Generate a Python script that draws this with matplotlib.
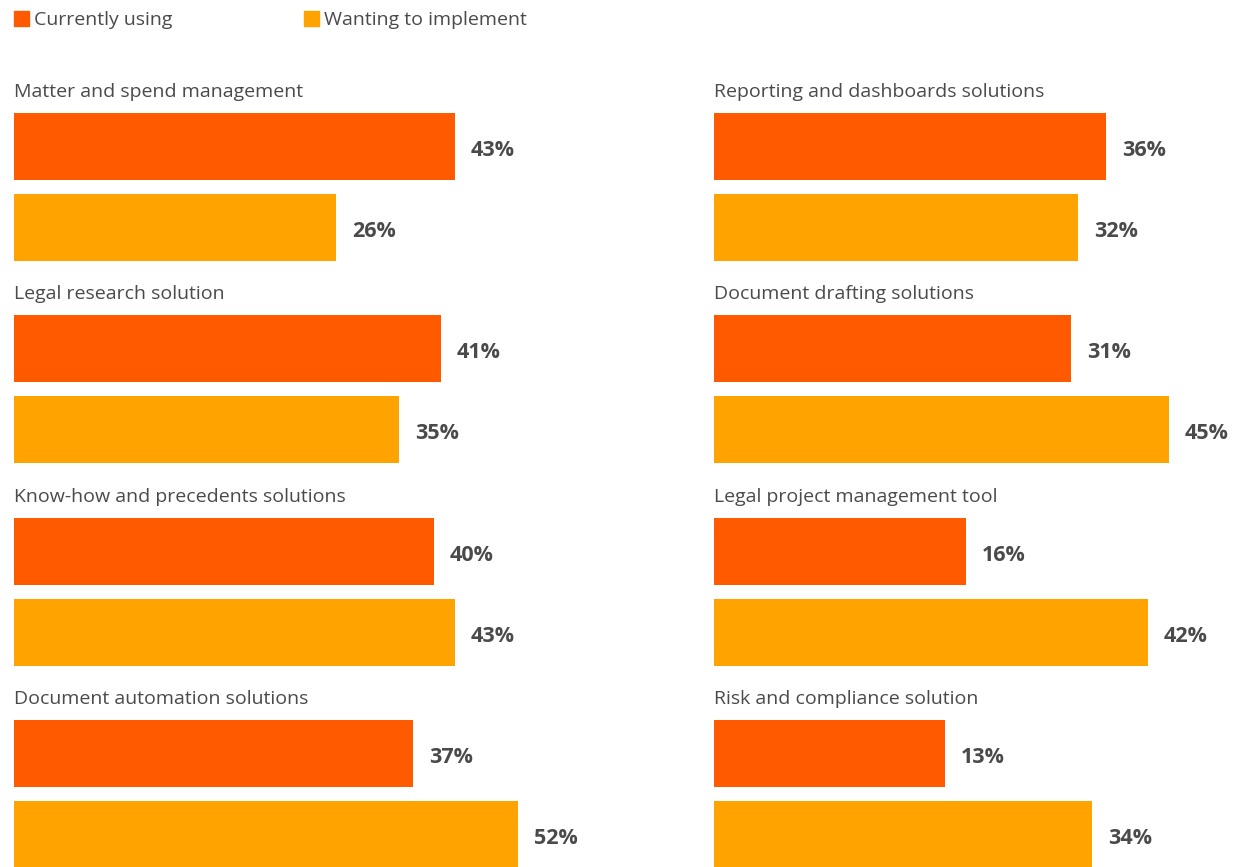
import matplotlib.pyplot as plt
from matplotlib.patches import Rectangle

# survey results, share of respondents (%)
left_titles = ["Matter and spend management", "Legal research solution",
               "Know-how and precedents solutions", "Document automation solutions"]
left_using = [43, 41, 40, 37]
left_wanting = [26, 35, 43, 52]

right_titles = ["Reporting and dashboards solutions", "Document drafting solutions",
                "Legal project management tool", "Risk and compliance solution"]
right_using = [36, 31, 16, 13]
right_wanting = [32, 45, 42, 34]

series_names = ["Currently using", "Wanting to implement"]

C_USING = "#FF5A00"
C_WANT = "#FFA300"
C_TEXT = "#4a4a4a"
FONT = "Open Sans"

W, H, DPI = 1251, 867, 100
BASE = -20          # bars start from this baseline
PX_PER_UNIT = 7.0
PITCH = 202.4       # vertical distance between groups (px)
BAR_H = 67

fig = plt.figure(figsize=(W / DPI, H / DPI), dpi=DPI)


def draw_column(x0_px, titles, using, wanting):
    width_px = 600
    ax = fig.add_axes([x0_px / W, 0, width_px / W, 1])
    ax.set_xlim(BASE, BASE + width_px / PX_PER_UNIT)
    ax.set_ylim(H, 0)
    ax.axis("off")
    for i, (t, u, w) in enumerate(zip(titles, using, wanting)):
        top = 113 + PITCH * i
        yu = top + BAR_H / 2
        yw = top + 81 + BAR_H / 2
        ax.text(BASE, top - 12, t, fontsize=14, color=C_TEXT, family=FONT,
                va="bottom", ha="left")
        ax.barh(yu, u - BASE, left=BASE, height=BAR_H, color=C_USING)
        ax.barh(yw, w - BASE, left=BASE, height=BAR_H, color=C_WANT)
        for y, v in ((yu, u), (yw, w)):
            ax.text(v + 16 / PX_PER_UNIT, y + 4, f"{v}%", fontsize=15.5,
                    fontweight="bold", color=C_TEXT, family=FONT,
                    va="center", ha="left")


draw_column(14, left_titles, left_using, left_wanting)
draw_column(714, right_titles, right_using, right_wanting)

# legend row
for (x_px, name, col) in ((14, series_names[0], C_USING), (304, series_names[1], C_WANT)):
    fig.add_artist(Rectangle((x_px / W, 1 - 26 / H), 15 / W, 15 / H,
                             transform=fig.transFigure, color=col))
    fig.text((x_px + 20) / W, 1 - 20 / H, name, fontsize=14, color=C_TEXT,
             family=FONT, va="center", ha="left")

fig.savefig("out.png", dpi=DPI, facecolor="white")
